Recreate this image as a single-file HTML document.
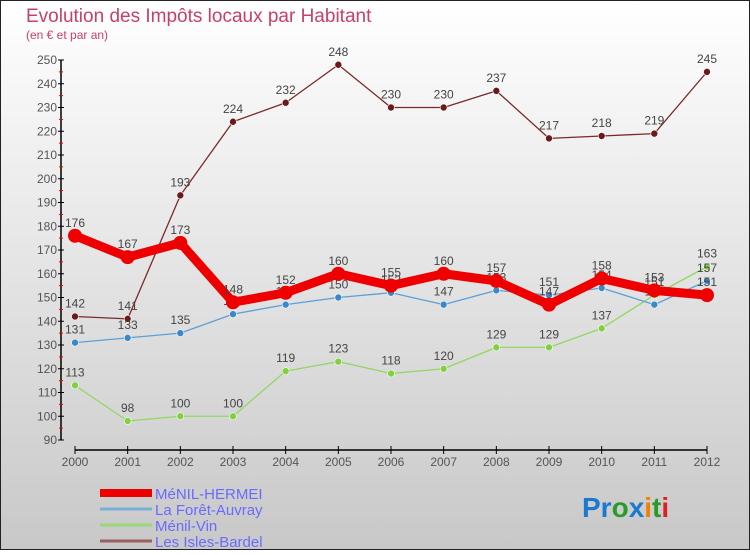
<!DOCTYPE html>
<html><head><meta charset="utf-8"><style>
body{margin:0}
#c{width:750px;height:550px;position:relative;font-family:"Liberation Sans",sans-serif}
</style></head><body>
<div id="c">
<svg width="750" height="550" xmlns="http://www.w3.org/2000/svg">
<defs><linearGradient id="bg" x1="0" y1="0" x2="0" y2="1"><stop offset="0" stop-color="#ffffff"/><stop offset="1" stop-color="#c8c8c8"/></linearGradient></defs>
<rect x="0.5" y="0.5" width="749" height="549" fill="url(#bg)" stroke="#222"/>
<text x="26" y="22" font-size="19" fill="#c8406a">Evolution des Impôts locaux par Habitant</text>
<text x="26" y="39" font-size="12" fill="#c8406a">(en € et par an)</text>
<g id="axes"></g>
<g id="series"></g>
<g id="legend"></g>
<text x="582" y="517" font-size="28" font-weight="bold"><tspan fill="#1a7ad0">Pr</tspan><tspan fill="#2a9a2a">o</tspan><tspan fill="#1a7ad0">x</tspan><tspan fill="#f08000">i</tspan><tspan fill="#2a9a2a">t</tspan><tspan fill="#e02020">i</tspan></text>
</svg>
</div>
<script>
const years=[2000,2001,2002,2003,2004,2005,2006,2007,2008,2009,2010,2011,2012];
const yTicks=[90,100,110,120,130,140,150,160,170,180,190,200,210,220,230,240,250];
const menilHermei=[176,167,173,148,152,160,155,160,157,147,158,153,151];
const foretAuvray=[131,133,135,143,147,150,152,147,153,151,154,147,157];
const menilVin=[113,98,100,100,119,123,118,120,129,129,137,151,163];
const islesBardel=[142,141,193,224,232,248,230,230,237,217,218,219,245];
const NS="http://www.w3.org/2000/svg";
function X(i){return 75+i*(707-75)/(years.length-1);}
function Y(v){return 440-(v-90)*(380/160);}
function mk(tag,attrs,parent,text){const e=document.createElementNS(NS,tag);for(const k in attrs)e.setAttribute(k,attrs[k]);if(text!==undefined)e.textContent=text;parent.appendChild(e);return e;}
const ax=document.getElementById('axes');
let l=mk('line',{x1:61,y1:Y(250),x2:61,y2:440,stroke:'#000','stroke-width':1.5},ax);


l=mk('line',{x1:75,y1:450,x2:707,y2:450,stroke:'#000','stroke-width':1.5},ax);


yTicks.forEach((v,i)=>{
  mk('line',{x1:58,y1:Y(v),x2:64,y2:Y(v),stroke:'#000'},ax);
  if(i<yTicks.length-1)mk('line',{x1:59,y1:Y(v+5),x2:63,y2:Y(v+5),stroke:'#e00'},ax);
  const t=mk('text',{x:57,y:Y(v)+4,'font-size':12,'text-anchor':'end',fill:'#555'},ax,String(v));
  
  
});
years.forEach((y,i)=>{
  mk('line',{x1:X(i),y1:446,x2:X(i),y2:454,stroke:'#000'},ax);
  const t=mk('text',{x:X(i),y:466,'font-size':12,'text-anchor':'middle',fill:'#555'},ax,String(y));
  
  
});
const sg=document.getElementById('series');
const series=[
 {d:islesBardel,c:'#7a2a2a',w:1.3,r:3.5,mc:'#6a1a1a',n:'les-isles-bardel'},
 {d:menilVin,c:'#90d860',w:1.3,r:3.5,mc:'#80d040',n:'menil-vin'},
 {d:foretAuvray,c:'#5ba0d8',w:1.3,r:3.5,mc:'#3a88c8',n:'la-foret-auvray'},
 {d:menilHermei,c:'#ee0000',w:9,r:7,mc:'#ee0000',n:'menil-hermei'}
];
series.forEach(s=>{
  const g=mk('g',{},sg);
  
  
  const p=mk('polyline',{points:s.d.map((v,i)=>X(i)+','+Y(v)).join(' '),fill:'none',stroke:s.c,'stroke-width':s.w,'stroke-linejoin':'round'},g);
  
  
  s.d.forEach((v,i)=>{
    const c=mk('circle',{cx:X(i),cy:Y(v),r:s.r,fill:s.mc,stroke:'#fff','stroke-width':s.r>5?0:0.6},g);
    
    
    const t=mk('text',{x:X(i),y:Y(v)-9,'font-size':12,'text-anchor':'middle',fill:'#444'},g,String(v));
    
    
  });
});
const lg=document.getElementById('legend');
const names=['MéNIL-HERMEI','La Forêt-Auvray','Ménil-Vin','Les Isles-Bardel'];
const lcol=['#ee0000','#7ab0d8','#98d878','#9a6060'];
const lw=[8,3,3,3];
names.forEach((n,i)=>{
  const y=493+i*16;
  const r=mk('line',{x1:100,y1:y,x2:152,y2:y,stroke:lcol[i],'stroke-width':lw[i]},lg);
  
  
  const t=mk('text',{x:155,y:y+6,'font-size':15,fill:'#6a6aff'},lg,n);
  
  
});
</script>
</body></html>
